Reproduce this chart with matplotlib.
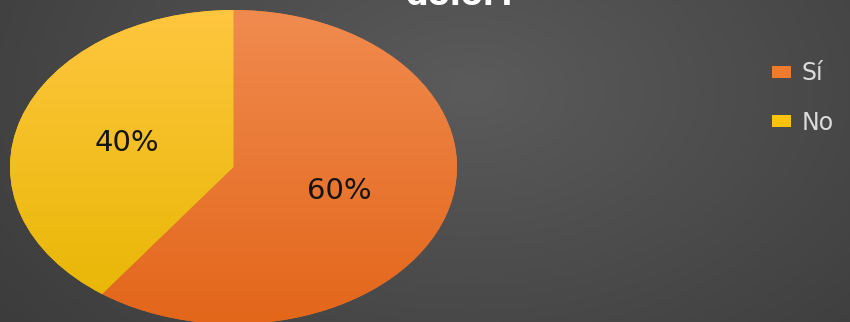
import numpy as np
import matplotlib
matplotlib.use("Agg")
import matplotlib.pyplot as plt
from matplotlib.colors import LinearSegmentedColormap

respuestas = ["Sí", "No"]
porcentajes = [60, 40]
colores = ["#EE7A2C", "#FCC30A"]
# top / bottom shades for the vertical gradient on each slice
degradados = [("#F08B4F", "#E3661A"), ("#FFC63F", "#E6B600")]
titulo = "dolor?"

W, H, DPI = 850, 322, 100
fig = plt.figure(figsize=(W / DPI, H / DPI), dpi=DPI)

# radial grey background
bg = fig.add_axes([0, 0, 1, 1], zorder=0)
yy, xx = np.mgrid[0:H, 0:W]
r = np.hypot((xx - 470) / 560.0, (yy - 90) / 360.0)
bg_cmap = LinearSegmentedColormap.from_list("bg", ["#5b5b5b", "#3c3c3c"])
bg.imshow(r, cmap=bg_cmap, vmin=0.0, vmax=1.05, aspect="auto", interpolation="bilinear")
bg.set_axis_off()

# pie axes stretched horizontally -> elliptical pie
left, right, top, bottom = 10, 457, 10, 324
ax = fig.add_axes([left / W, (H - bottom) / H, (right - left) / W, (bottom - top) / H], zorder=1)
ax.patch.set_alpha(0)

wedges, textos, autotextos = ax.pie(
    porcentajes, labels=None, colors=colores, startangle=90, counterclock=False,
    autopct="%d%%", pctdistance=0.5, radius=1.0,
    wedgeprops=dict(linewidth=0),
    textprops=dict(color="#141414", fontsize=21, family="DejaVu Sans"),
)
ax.set_aspect("auto")
ax.set_xlim(-1, 1)
ax.set_ylim(-1, 1)

grad = np.linspace(0, 1, 256).reshape(-1, 1)
for w, (c_top, c_bot) in zip(wedges, degradados):
    cm = LinearSegmentedColormap.from_list("g", [c_top, c_bot])
    im = ax.imshow(grad, cmap=cm, extent=(-1, 1, -1, 1), aspect="auto",
                   origin="upper", zorder=2, interpolation="bilinear")
    im.set_clip_path(w)
for t in autotextos:
    t.set_zorder(5)
ax.set_axis_off()

# title, partly running off the top edge
fig.text(462 / W, 1 - 5 / H, titulo, ha="center", va="baseline",
         color="white", fontsize=23, fontweight="bold", zorder=3)

fig.legend(wedges, respuestas, loc="upper left",
           bbox_to_anchor=(772 / W, 1 - 61 / H), frameon=False,
           fontsize=17, handlelength=0.8, handleheight=0.4,
           handletextpad=0.45, labelspacing=1.08, borderpad=0, borderaxespad=0,
           labelcolor="#dcdcdc")

fig.savefig("out.png", dpi=DPI)
